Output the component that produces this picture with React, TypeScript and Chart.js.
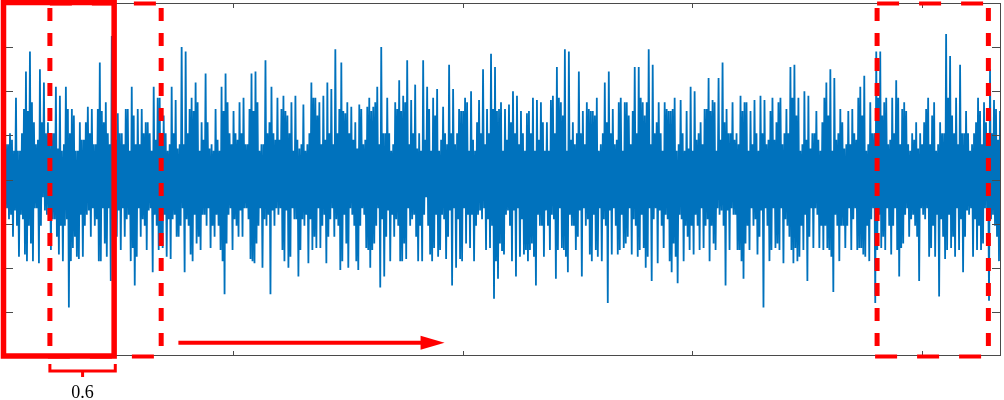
import React, { useEffect, useRef } from "react";
import { Chart, registerables } from "chart.js";

Chart.register(...registerables);

const SIGNAL: number[] = [
  0.2,-0.65,0.8,-0.65,0.8,-0.9,1.05,-0.8,0.9,-1.3,0.65,-0.7,1.85,-1.05,0.65,-1.75,0.65,-0.8,1.05,-0.9,1.6,-1.7,2.45,-1.85,1.55,-1.05,2.9,-1.45,1.75,-1.85,1.3,-0.65,0.8,-0.65,0.9,-1.9,2.5,-1.05,1.3,-0.4,2.2,-0.7,1.05,-0.8,1.3,-0.65,0.8,-1.6,1.05,-0.9,
  1.05,-0.9,2.1,-1.3,0.7,-1.7,1.9,-1.05,0.65,-1.85,0.8,-1.05,2.1,-0.9,1.6,-2.9,1.05,-1.85,1.6,-1.55,1.45,-1.3,0.65,-1.75,0.65,-1.8,1.3,-0.8,0.9,-1.75,0.9,-1.05,1.3,-0.8,1.65,-0.7,1.05,-1.3,1.6,-0.65,0.8,-1.05,0.8,-0.9,1.6,-1.85,2.65,-1.85,1.55,-0.65,
  1.3,-1.45,1.75,-1.75,1.05,-0.65,0.8,-2.3,3.25,-0.9,1.05,-0.8,0.9,-1.3,1.5,-0.7,1.05,-1.6,1.05,-0.65,0.8,-1.3,1.6,-0.9,1.6,-0.8,0.65,-1.85,2.1,-1.55,1.45,-2.4,0.8,-1.75,1.6,-0.65,0.8,-1.3,1.6,-0.9,1.05,-1.05,1.3,-1.6,1.3,-0.7,1.05,-0.65,0.65,-2.1,
  2.1,-0.8,0.9,-1.05,1.85,-1.6,1.85,-1.3,1.05,-1.55,1.45,-0.8,1.05,-1.75,0.65,-0.9,0.8,-1.8,2.1,-0.9,1.05,-0.8,1.8,-1.3,0.7,-1.3,0.8,-1.05,3.0,-0.65,0.8,-2.1,2.9,-0.9,1.05,-1.05,1.6,-1.7,1.85,-1.85,1.55,-0.8,2.2,-1.45,1.75,-1.3,0.65,-1.6,1.3,-0.8,
  0.9,-0.8,2.4,-1.05,1.3,-0.65,0.7,-1.55,0.8,-1.05,0.65,-1.3,1.6,-0.8,0.9,-1.05,0.65,-1.6,2.1,-1.85,1.55,-2.6,2.4,-1.45,1.75,-0.8,1.05,-0.65,0.8,-1.6,1.55,-0.9,1.05,-1.05,0.9,-1.3,1.75,-0.7,1.05,-1.3,1.85,-0.65,0.8,-0.65,0.8,-0.9,1.6,-1.8,2.4,-1.85,
  1.55,-1.9,2.45,-1.45,1.75,-1.05,0.65,-0.65,0.8,-2.0,0.8,-0.9,2.7,-1.05,1.05,-0.8,1.3,-2.6,2.1,-0.7,1.05,-1.05,0.9,-0.65,1.85,-0.8,0.9,-0.65,1.6,-1.6,1.9,-1.85,1.55,-0.7,1.45,-2.0,1.05,-1.75,1.75,-0.65,0.65,-0.9,1.9,-0.9,0.9,-2.2,0.7,-1.6,0.8,-0.9,
  1.7,-1.05,0.65,-0.8,0.8,-1.9,1.05,-0.9,2.2,-1.6,1.85,-1.3,1.85,-1.55,1.45,-0.65,1.75,-1.55,0.8,-1.05,1.9,-0.8,0.9,-1.9,2.2,-1.3,1.05,-0.9,2.05,-0.65,0.8,-1.3,2.95,-0.9,1.05,-1.05,1.6,-2.05,2.65,-1.85,1.55,-0.8,1.5,-1.45,1.75,-2.0,1.05,-0.65,1.65,-0.8,
  0.9,-1.05,1.3,-1.85,0.7,-2.05,1.7,-1.05,1.6,-0.65,0.8,-0.8,0.9,-1.55,1.65,-1.6,1.85,-2.0,1.55,-1.6,1.65,-1.45,1.75,-1.05,2.1,-0.65,0.8,-2.45,3.0,-0.9,1.05,-2.2,1.05,-1.3,1.85,-0.7,1.05,-1.85,0.65,-0.8,0.8,-1.3,1.75,-0.9,1.6,-1.05,2.25,-1.85,1.55,-1.85,
  1.9,-1.45,1.75,-1.8,2.7,-0.65,0.8,-1.05,1.8,-0.9,1.05,-0.8,2.15,-1.3,0.7,-1.85,1.05,-1.05,0.65,-1.85,2.7,-0.8,0.9,-0.4,2.1,-1.05,1.6,-1.7,0.65,-1.85,1.85,-1.55,1.45,-0.8,2.05,-1.75,0.65,-1.6,0.9,-0.8,1.65,-0.9,1.05,-1.8,0.8,-1.3,2.6,-0.7,1.05,-2.4,
  2.05,-0.65,0.8,-2.0,1.05,-0.9,1.6,-1.8,1.55,-1.85,1.55,-0.65,1.85,-1.45,1.75,-0.8,0.65,-1.55,2.0,-0.8,0.9,-1.85,0.65,-1.05,1.3,-0.8,1.8,-0.7,1.05,-0.9,2.5,-0.65,0.8,-1.6,1.6,-0.9,1.05,-1.55,2.85,-1.05,1.6,-2.7,2.55,-1.85,1.55,-2.25,1.6,-1.45,1.75,-1.6,
  0.65,-1.7,1.6,-0.8,0.9,-0.7,1.7,-1.05,1.3,-1.85,2.0,-0.7,1.05,-2.2,1.9,-0.65,0.8,-1.75,1.55,-0.9,1.05,-1.7,0.65,-1.6,1.5,-1.85,1.55,-1.6,1.05,-1.45,1.85,-1.75,0.65,-2.4,1.8,-0.8,0.9,-1.05,1.75,-1.05,1.3,-1.75,0.65,-0.7,1.3,-1.05,0.65,-1.6,1.8,-0.8,
  1.9,-0.9,1.05,-2.25,2.55,-1.6,1.85,-0.65,1.75,-1.55,1.45,-1.6,2.95,-1.75,0.65,-2.1,2.9,-0.8,0.9,-1.05,1.3,-1.05,0.8,-1.6,1.05,-1.3,2.45,-0.7,1.05,-2.2,1.55,-0.65,0.8,-1.05,1.75,-0.9,1.6,-1.7,1.55,-1.85,1.55,-0.8,1.45,-1.6,1.85,-1.75,0.65,-0.65,0.8,-1.85,
  1.05,-0.9,2.2,-1.05,1.3,-2.8,2.45,-0.7,1.05,-1.7,1.6,-0.65,0.8,-1.05,0.9,-1.7,1.75,-1.6,1.85,-0.8,0.65,-1.55,1.75,-1.45,1.75,-1.3,1.45,-0.65,0.8,-1.7,1.55,-0.9,2.55,-1.05,1.05,-1.75,2.55,-1.6,1.85,-0.8,1.75,-1.55,1.45,-2.0,1.75,-1.75,2.95,-0.65,0.8,-2.3,
  2.6,-0.9,1.05,-0.65,1.3,-1.9,1.75,-0.7,1.05,-1.05,0.65,-1.55,1.75,-0.8,1.6,-0.9,1.55,-1.85,1.55,-2.1,1.6,-1.45,1.85,-1.75,0.65,-2.35,0.8,-0.8,1.8,-0.9,1.05,-1.85,0.65,-1.05,1.55,-1.3,0.7,-1.6,2.1,-1.05,0.65,-1.7,2.0,-0.8,0.9,-1.05,1.05,-1.6,1.3,-0.65,
  0.8,-1.55,1.6,-1.05,1.6,-0.9,2.3,-1.85,1.55,-1.05,1.8,-1.45,1.75,-1.6,0.65,-0.65,2.3,-0.8,0.9,-0.7,2.65,-1.05,1.3,-2.4,1.6,-0.7,1.05,-1.6,1.05,-0.65,1.75,-0.8,0.9,-0.8,1.05,-1.6,0.8,-1.6,1.9,-1.85,1.55,-2.25,1.75,-1.45,1.75,-1.05,0.65,-1.6,1.55,-0.65,
  0.8,-1.05,1.8,-0.9,1.05,-1.7,0.65,-1.3,1.9,-0.7,1.05,-2.9,1.8,-0.65,0.8,-1.05,0.9,-1.85,1.55,-1.6,1.85,-0.65,0.9,-1.55,1.3,-1.45,1.75,-1.6,1.85,-0.65,0.8,-1.9,1.05,-0.9,1.6,-1.05,1.05,-1.3,2.55,-1.6,1.85,-1.9,2.6,-1.55,1.45,-1.85,1.85,-1.75,0.65,-1.05,
  0.8,-1.6,2.0,-0.8,0.9,-2.3,1.9,-1.3,0.7,-0.65,1.05,-1.55,1.05,-0.65,1.55,-0.8,0.9,-1.55,0.65,-1.05,1.3,-1.6,1.85,-1.05,2.2,-1.55,1.45,-1.6,2.5,-1.75,0.65,-2.55,2.3,-0.8,0.9,-1.05,1.05,-1.85,1.6,-1.05,1.3,-1.05,0.7,-1.55,0.8,-1.05,1.55,-0.65,0.8,-1.6,
  1.6,-0.9,1.05,-0.65,0.9,-1.6,1.85,-1.55,2.1,-1.55,1.45,-1.7,2.35,-1.75,0.65,-1.05,0.8,-1.85,1.75,-0.9,1.05,-0.65,1.05,-2.8,2.9,-1.6,1.85,-0.8,2.9,-1.55,1.45,-1.3,1.75,-1.6,1.85,-0.65,0.8,-1.05,0.9,-1.7,1.85,-1.05,1.05,-0.65,2.25,-1.6,1.85,-2.2,0.8,-1.55,
  1.6,-1.45,1.75,-0.8,1.55,-0.65,0.8,-1.3,0.65,-0.9,1.05,-0.8,0.9,-1.05,1.3,-1.3,0.7,-2.3,1.05,-0.65,0.8,-0.8,1.3,-0.9,1.6,-0.65,1.85,-1.75,0.8,-1.55,1.45,-1.05,1.75,-1.75,0.65,-0.8,0.8,-2.65,1.3,-0.9,1.05,-1.3,1.05,-1.8,3.3,-1.6,1.85,-0.8,2.8,-1.55,
  1.45,-1.3,1.05,-1.75,1.85,-0.65,0.8,-1.6,2.6,-0.9,1.05,-2.1,1.05,-1.3,1.55,-0.7,1.05,-0.8,0.65,-0.65,0.8,-1.75,1.05,-0.9,1.3,-1.6,1.85,-1.05,1.55,-1.6,0.8,-1.45,1.75,-0.65,1.3,-0.65,0.8,-2.75,2.5,-0.9,1.05,-0.8,1.8,-1.05,1.6,-1.3,0.9,-1.85,1.55,-0.3,
];

const DURATION = 8.69; // seconds shown on the time axis
const X_RANGE = [0, 8.69];
const Y_RANGE = [-4, 4];
const X_TICKS = [2, 4, 6, 8];
const Y_TICKS = [-3, -2, -1, 0, 1, 2, 3];

const SOLID_WINDOW = [0, 0.96];
const DASHED_WINDOWS = [
  [0.4, 1.37],
  [7.61, 8.58],
];
const ARROW_X = [1.52, 3.84];
const ARROW_Y = -3.7;
const OVERLAP_SPAN = [0.4, 0.97];
const OVERLAP_LABEL = "0.6";

const RED = "#ff0000";

const overlayPlugin = {
  id: "overlay",
  afterDatasetsDraw(chart: any) {
    const { ctx, chartArea: a, scales } = chart;
    const xs = scales.x;
    const ys = scales.y;
    ctx.save();

    // axes frame
    ctx.strokeStyle = "#4a4a4a";
    ctx.lineWidth = 1;
    ctx.setLineDash([]);
    ctx.strokeRect(a.left + 0.5, a.top + 0.5, a.right - a.left - 1, a.bottom - a.top - 1);

    // inward ticks
    ctx.beginPath();
    X_TICKS.forEach((v) => {
      const px = Math.round(xs.getPixelForValue(v)) + 0.5;
      ctx.moveTo(px, a.bottom);
      ctx.lineTo(px, a.bottom - 5);
      ctx.moveTo(px, a.top);
      ctx.lineTo(px, a.top + 5);
    });
    Y_TICKS.forEach((v) => {
      const py = Math.round(ys.getPixelForValue(v)) + 0.5;
      ctx.moveTo(a.left, py);
      ctx.lineTo(a.left + 9, py);
      ctx.moveTo(a.right, py);
      ctx.lineTo(a.right - 9, py);
    });
    ctx.stroke();

    const top = ys.getPixelForValue(Y_RANGE[1]);
    const bottom = ys.getPixelForValue(Y_RANGE[0]);

    // dashed windows
    ctx.strokeStyle = RED;
    DASHED_WINDOWS.forEach(([x0, x1]) => {
      const p0 = xs.getPixelForValue(x0);
      const p1 = xs.getPixelForValue(x1);
      ctx.lineWidth = 5;
      ctx.setLineDash([13, 12]);
      ctx.lineDashOffset = -5;
      ctx.beginPath();
      ctx.moveTo(p0, top);
      ctx.lineTo(p0, bottom);
      ctx.moveTo(p1, top);
      ctx.lineTo(p1, bottom);
      ctx.stroke();
      ctx.lineWidth = 4;
      ctx.setLineDash([22, 20]);
      ctx.lineDashOffset = 0;
      ctx.beginPath();
      ctx.moveTo(p0, top + 0.5);
      ctx.lineTo(p1, top + 0.5);
      ctx.stroke();
      ctx.beginPath();
      ctx.moveTo(p0 - 2, bottom + 0.5);
      ctx.lineTo(p1, bottom + 0.5);
      ctx.stroke();
    });

    // solid window
    ctx.setLineDash([]);
    ctx.lineWidth = 5.5;
    const s0 = xs.getPixelForValue(SOLID_WINDOW[0]);
    const s1 = xs.getPixelForValue(SOLID_WINDOW[1]);
    ctx.strokeRect(s0 - 0.5, top - 0.5, s1 - s0 + 0.5, bottom - top + 0.5);

    // arrow
    const ax0 = xs.getPixelForValue(ARROW_X[0]);
    const ax1 = xs.getPixelForValue(ARROW_X[1]);
    const ay = ys.getPixelForValue(ARROW_Y);
    ctx.lineWidth = 4;
    ctx.beginPath();
    ctx.moveTo(ax0, ay);
    ctx.lineTo(ax1 - 20, ay);
    ctx.stroke();
    ctx.fillStyle = RED;
    ctx.beginPath();
    ctx.moveTo(ax1, ay);
    ctx.lineTo(ax1 - 24, ay - 7);
    ctx.lineTo(ax1 - 24, ay + 7);
    ctx.closePath();
    ctx.fill();

    // overlap bracket
    const b0 = xs.getPixelForValue(OVERLAP_SPAN[0]);
    const b1 = xs.getPixelForValue(OVERLAP_SPAN[1]);
    const by = a.bottom + 15;
    ctx.lineWidth = 3;
    ctx.beginPath();
    ctx.moveTo(b0, by - 7);
    ctx.lineTo(b0, by);
    ctx.lineTo(b1, by);
    ctx.lineTo(b1, by - 7);
    const bm = (b0 + b1) / 2;
    ctx.moveTo(bm, by);
    ctx.lineTo(bm, by + 6);
    ctx.stroke();

    ctx.fillStyle = "#000";
    ctx.font = '18px "Liberation Serif", "Times New Roman", serif';
    ctx.textAlign = "center";
    ctx.textBaseline = "alphabetic";
    ctx.fillText(OVERLAP_LABEL, bm, by + 27);

    ctx.restore();
  },
};

export default function App() {
  const canvasRef = useRef<HTMLCanvasElement | null>(null);

  useEffect(() => {
    const canvas = canvasRef.current;
    if (!canvas) return;
    const dt = DURATION / (SIGNAL.length - 1);
    const points = SIGNAL.map((v, i) => ({ x: i * dt, y: v }));
    const chart = new Chart(canvas, {
      type: "line",
      data: {
        datasets: [
          {
            data: points,
            borderColor: "#0072BD",
            borderWidth: 1.8,
            pointRadius: 0,
            fill: false,
            tension: 0,
          },
        ],
      },
      options: {
        animation: false,
        responsive: false,
        devicePixelRatio: 1,
        layout: { padding: { left: 4, right: 3, top: 3, bottom: 44 } },
        plugins: { legend: { display: false }, tooltip: { enabled: false } },
        scales: {
          x: { type: "linear", min: X_RANGE[0], max: X_RANGE[1], display: false },
          y: { type: "linear", min: Y_RANGE[0], max: Y_RANGE[1], display: false },
        },
      },
      plugins: [overlayPlugin],
    });
    return () => chart.destroy();
  }, []);

  return (
    <div style={{ position: "fixed", left: 0, top: 0, width: 1004, height: 400, background: "#fff" }}>
      <canvas ref={canvasRef} width={1004} height={400} />
    </div>
  );
}
